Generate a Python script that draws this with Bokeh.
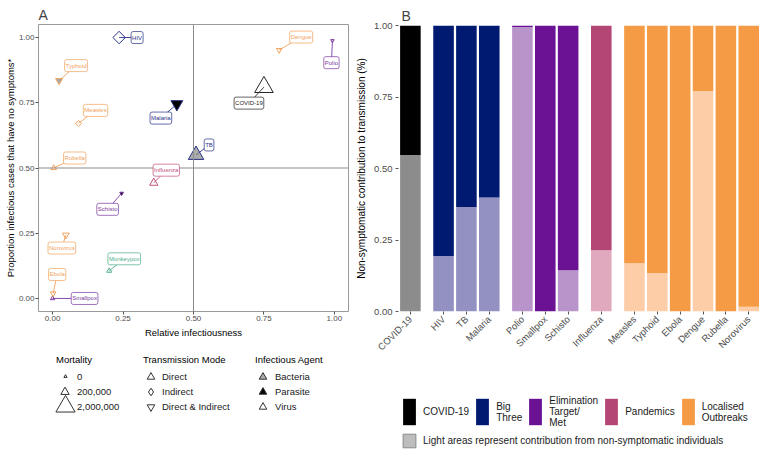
import math
from bokeh.plotting import figure
from bokeh.models import (Range1d, FixedTicker, PrintfTickFormatter, Label, Legend,
                          LegendItem, Span, ColumnDataSource)
from bokeh.layouts import row, column
from bokeh.embed import file_html
from bokeh.resources import INLINE

FONT = "Liberation Sans"
NAN = float("nan")

# ---------------- Panel A data ----------------
diseases_a = ["COVID-19", "HIV", "TB", "Malaria", "Polio", "Smallpox", "Schisto", "Influenza",
              "Measles", "Typhoid", "Ebola", "Dengue", "Rubella", "Norovirus", "Monkeypox"]
groups_a = ["COVID-19", "Big Three", "Big Three", "Big Three", "Elimination", "Elimination",
            "Elimination", "Pandemics", "Localised", "Localised", "Localised", "Localised",
            "Localised", "Localised", "Other"]
rel_infectiousness = [0.75, 0.236, 0.509, 0.441, 0.993, 0.0, 0.245, 0.359,
                      0.092, 0.023, 0.002, 0.804, 0.004, 0.047, 0.201]
prop_no_symptoms = [0.81, 1.0, 0.55, 0.745, 0.988, 0.0, 0.403, 0.443,
                    0.671, 0.835, 0.019, 0.952, 0.5, 0.243, 0.106]
mortality = [1900000, 690000, 1200000, 600000, 500, 8000, 2000, 200000,
             60000, 110000, 45000, 40000, 45000, 95000, 25000]
transmission = ["Direct", "Indirect", "Direct", "Direct & Indirect", "Direct & Indirect",
                "Direct", "Direct & Indirect", "Direct", "Indirect", "Direct & Indirect",
                "Direct & Indirect", "Direct & Indirect", "Direct", "Direct & Indirect", "Direct"]
agent = ["Virus", "Virus", "Bacteria", "Parasite", "Virus", "Virus", "Parasite", "Virus",
         "Virus", "Bacteria", "Virus", "Virus", "Virus", "Virus", "Virus"]
# label placement (screen px, +dx right, +dy down) -- layout only
label_dx = [-15, 18, 13, -16, -1, 32, -14, 12.5, 17, 17, 4, 22, 21, -4, 15]
label_dy = [16, 0, -10, 14, 22, 0, 16, -12.7, -13, -15, -19, -13, -10, 13, -12]

mortality_legend = [0, 200000, 2000000]
mortality_legend_labels = ["0", "200,000", "2,000,000"]
transmission_levels = ["Direct", "Indirect", "Direct & Indirect"]
agent_levels = ["Bacteria", "Parasite", "Virus"]

# ---------------- Panel B data ----------------
diseases_b = ["COVID-19", "HIV", "TB", "Malaria", "Polio", "Smallpox", "Schisto", "Influenza",
              "Measles", "Typhoid", "Ebola", "Dengue", "Rubella", "Norovirus"]
groups_b = ["COVID-19", "Big Three", "Big Three", "Big Three", "Elimination", "Elimination",
            "Elimination", "Pandemics", "Localised", "Localised", "Localised", "Localised",
            "Localised", "Localised"]
nonsymptomatic = [0.547, 0.194, 0.365, 0.399, 0.995, 0.0, 0.144, 0.214,
                  0.169, 0.135, 0.0, 0.771, 0.0, 0.017]
group_order = ["COVID-19", "Big Three", "Elimination", "Pandemics", "Localised"]
group_legend_labels = ["COVID-19", "Big\nThree", "Elimination\nTarget/\nMet", "Pandemics",
                       "Localised\nOutbreaks"]
light_note = "Light areas represent contribution from non-symptomatic individuals"

# ---------------- styles ----------------
dark_col = {"COVID-19": "#000000", "Big Three": "#001a72", "Elimination": "#6a1293",
            "Pandemics": "#b34675", "Localised": "#f59b45"}
light_col = {"COVID-19": "#8c8c8c", "Big Three": "#9390c2", "Elimination": "#b994cb",
             "Pandemics": "#e0a9bd", "Localised": "#fdcda8"}
a_col = {"COVID-19": "#262626", "Big Three": "#2a3388", "Elimination": "#7b3aa0",
         "Pandemics": "#c2507e", "Localised": "#f0a35e", "Other": "#4fae8c"}
marker_map = {"Direct": "triangle", "Indirect": "square", "Direct & Indirect": "inverted_triangle"}
legend_marker_map = {"Direct": "triangle", "Indirect": "diamond",
                     "Direct & Indirect": "inverted_triangle"}
fill_map = {"Bacteria": ("#7f7f7f", 0.65), "Parasite": ("#000000", 1.0), "Virus": ("#ffffff", 0.0)}
KEY = "#333333"


def size_scale(m):
    return 3.3 + 15.7 * math.sqrt(m / 2000000)


def style_legend(lg, fs="9.5px"):
    lg.background_fill_alpha = 0
    lg.border_line_color = None
    lg.padding = 0
    lg.margin = 0
    lg.label_text_font = FONT
    lg.label_text_font_size = fs
    lg.label_text_color = "#1a1a1a"
    lg.label_height = 10
    lg.label_width = 0
    lg.title_text_font = FONT
    lg.title_text_font_size = fs
    lg.title_text_font_style = "normal"
    lg.title_text_color = "#000000"
    return lg


def legend_fig(w, h):
    f = figure(width=w, height=h, output_backend="svg", toolbar_location=None,
               x_range=Range1d(0, 1), y_range=Range1d(0, 1),
               x_axis_location=None, y_axis_location=None,
               min_border=0, outline_line_color=None)
    f.xgrid.visible = False
    f.ygrid.visible = False
    return f


def panel_title(fig, text, offset):
    fig.title.text = text
    fig.title.text_font = FONT
    fig.title.text_font_size = "14px"
    fig.title.text_font_style = "normal"
    fig.title.align = "left"
    fig.title.vertical_align = "top"
    fig.title.offset = offset
    fig.title.standoff = 0


# ================= Panel A figure =================
A_W, A_H = 350, 340
A_L, A_R, A_T, A_B = 38, 2, 24, 29
pa = figure(width=A_W, height=A_H, output_backend="svg", toolbar_location=None,
            x_range=Range1d(-0.05, 1.05), y_range=Range1d(-0.05, 1.05),
            min_border_left=A_L, min_border_right=A_R, min_border_top=A_T, min_border_bottom=A_B)
panel_title(pa, "A", 0)
pa.xgrid.visible = False
pa.ygrid.visible = False
pa.outline_line_color = "#9a9a9a"
pa.outline_line_width = 1
pa.background_fill_color = "white"

for ax in (pa.xaxis[0], pa.yaxis[0]):
    ax.ticker = FixedTicker(ticks=[0, 0.25, 0.5, 0.75, 1.0])
    ax.formatter = PrintfTickFormatter(format="%.2f")
    ax.axis_line_color = None
    ax.major_tick_line_color = "#555555"
    ax.major_tick_out = 3
    ax.major_tick_in = 0
    ax.minor_tick_line_color = None
    ax.major_label_text_font = FONT
    ax.major_label_text_font_size = "8px"
    ax.major_label_text_color = "#4d4d4d"
    ax.major_label_standoff = 1
    ax.axis_label_text_font = FONT
    ax.axis_label_text_font_size = "9.5px"
    ax.axis_label_text_font_style = "normal"
    ax.axis_label_text_color = "#000000"
    ax.axis_label_standoff = 0
pa.xaxis[0].axis_label = "Relative infectiousness"
pa.xaxis[0].axis_label_standoff = 3
pa.yaxis[0].axis_label = "Proportion infectious cases that have no symptoms*"

pa.add_layout(Span(location=0.5, dimension="height", line_color="#8c8c8c", line_width=1))
pa.add_layout(Span(location=0.5, dimension="width", line_color="#8c8c8c", line_width=1))

frame_w = A_W - A_L - A_R
frame_h = A_H - A_T - A_B
ppx = frame_w / 1.1
ppy = frame_h / 1.1

lab_x = [x + dx / ppx for x, dx in zip(rel_infectiousness, label_dx)]
lab_y = [y - dy / ppy for y, dy in zip(prop_no_symptoms, label_dy)]
cols = [a_col[g] for g in groups_a]
pa.segment(x0=rel_infectiousness, y0=prop_no_symptoms, x1=lab_x, y1=lab_y,
           line_color=cols, line_width=0.9)

sizes = []
angles = []
for m, t in zip(mortality, transmission):
    s = size_scale(m)
    if t == "Indirect":
        sizes.append(s * 0.7)
        angles.append(math.pi / 4)
    else:
        sizes.append(s)
        angles.append(0.0)
src = ColumnDataSource(dict(
    x=rel_infectiousness, y=prop_no_symptoms,
    marker=[marker_map[t] for t in transmission],
    size=sizes, angle=angles, line=cols,
    fill=[fill_map[a][0] for a in agent], falpha=[fill_map[a][1] for a in agent],
))
pa.scatter(x="x", y="y", marker="marker", size="size", angle="angle", line_color="line",
           fill_color="fill", fill_alpha="falpha", line_width=1, source=src)

for name, x, y, dx, dy, c in zip(diseases_a, rel_infectiousness, prop_no_symptoms,
                                  label_dx, label_dy, cols):
    pa.add_layout(Label(x=x, y=y, x_offset=dx, y_offset=-dy, text=name,
                        text_font=FONT, text_font_size="6px", text_color=c,
                        text_align="center", text_baseline="middle",
                        background_fill_color="white", background_fill_alpha=1.0,
                        border_line_color=c, border_line_width=0.8, border_line_alpha=0.9,
                        border_radius=2, padding=(1, 3)))

# ---------- Panel A legends: own figure, frame aligned with panel A frame ----------
LA_H = 450 - A_H
la = legend_fig(A_W, LA_H)
FL = A_L            # page x of the aligned frame's left edge
PAGE_BOTTOM = 450   # page y of the legend figure's bottom
row_cy = [376.7, 391.2, 406.2]
ROW_H = 15
items_top = row_cy[0] - ROW_H / 2


def invisible(fig):
    return fig.scatter(x=[NAN], y=[NAN], marker="circle", size=1, line_alpha=0, fill_alpha=0)


def text_legend(fig, title, labels, left_px, glyph_w, standoff):
    inv = invisible(fig)
    items = [LegendItem(label=l, renderers=[inv]) for l in labels]
    lg = Legend(items=items, title=title, glyph_width=glyph_w, glyph_height=ROW_H,
                label_standoff=standoff, spacing=0, title_standoff=4,
                location=(left_px - FL, PAGE_BOTTOM - (items_top + ROW_H * len(labels))))
    style_legend(lg)
    fig.add_layout(lg)


def key_legend(fig, renderer, cx, cy, box):
    lg = Legend(items=[LegendItem(label=" ", renderers=[renderer])], glyph_width=box,
                glyph_height=box, label_standoff=0,
                location=(cx - box / 2 - FL, PAGE_BOTTOM - (cy + box / 2)))
    style_legend(lg, fs="1px")
    fig.add_layout(lg)


text_legend(la, "Mortality", mortality_legend_labels, 56, 16, 5)
text_legend(la, "Transmission Mode", transmission_levels, 143, 16, 3)
text_legend(la, "Infectious Agent", agent_levels, 255, 16, 4)

for m, cy in zip(mortality_legend, row_cy):
    s = size_scale(m)
    box = max(2, int(round(s / 0.4)))
    r = la.scatter(x=[NAN], y=[NAN], marker="triangle", line_color=KEY, fill_alpha=0,
                   line_width=1)
    key_legend(la, r, 64.5, cy, box)

for t, cy in zip(transmission_levels, row_cy):
    r = la.scatter(x=[NAN], y=[NAN], marker=legend_marker_map[t], line_color=KEY,
                   fill_alpha=0, line_width=1)
    key_legend(la, r, 150, cy, 19)

for a, cy in zip(agent_levels, row_cy):
    fc, fa = fill_map[a]
    r = la.scatter(x=[NAN], y=[NAN], marker="triangle", line_color=KEY, fill_color=fc,
                   fill_alpha=fa, line_width=1)
    key_legend(la, r, 262.5, cy, 19)

# ================= Panel B figure =================
B_W, B_H = 410, 374
B_L, B_R, B_T, B_B = 48, 1, 25, 63
group_index = {g: i for i, g in enumerate(group_order)}
pos = [i + 0.45 * group_index[g] for i, g in enumerate(groups_b)]

pb = figure(width=B_W, height=B_H, output_backend="svg", toolbar_location=None,
            x_range=Range1d(-0.52, 15.27), y_range=Range1d(0, 1),
            min_border_left=B_L, min_border_right=B_R, min_border_top=B_T,
            min_border_bottom=B_B)
panel_title(pb, "B", 3)
pb.xgrid.visible = False
pb.ygrid.visible = False
pb.outline_line_color = None

pb.vbar(x=pos, bottom=0, top=nonsymptomatic, width=0.9,
        fill_color=[light_col[g] for g in groups_b], line_color=None)
pb.vbar(x=pos, bottom=nonsymptomatic, top=[1.0] * len(pos), width=0.9,
        fill_color=[dark_col[g] for g in groups_b], line_color=None)

xa = pb.xaxis[0]
xa.ticker = FixedTicker(ticks=pos)
xa.major_label_overrides = {p: n for p, n in zip(pos, diseases_b)}
xa.major_label_orientation = math.pi / 4
ya = pb.yaxis[0]
ya.ticker = FixedTicker(ticks=[0, 0.25, 0.5, 0.75, 1.0])
ya.formatter = PrintfTickFormatter(format="%.2f")
ya.axis_label = "Non-symptomatic contribution to transmission (%)"
for ax in (xa, ya):
    ax.axis_line_color = None
    ax.major_tick_line_color = "#555555"
    ax.major_tick_out = 3
    ax.major_tick_in = 0
    ax.minor_tick_line_color = None
    ax.major_label_text_font = FONT
    ax.major_label_text_font_size = "9.5px"
    ax.major_label_text_color = "#4d4d4d"
    ax.major_label_standoff = 3
    ax.axis_label_text_font = FONT
    ax.axis_label_text_font_size = "10px"
    ax.axis_label_text_font_style = "normal"
    ax.axis_label_text_color = "#000000"
    ax.axis_label_standoff = 4

# ---------- Panel B legends: own figure, frame aligned with panel B frame ----------
LB_H = 450 - B_H
lb = legend_fig(B_W, LB_H)
g_items = []
for g, lbl in zip(group_order, group_legend_labels):
    r = lb.vbar(x=[NAN], top=[NAN], width=1, fill_color=dark_col[g], line_color=None)
    g_items.append(LegendItem(label=lbl, renderers=[r]))
lg_g = Legend(items=g_items, location=(3, PAGE_BOTTOM - 428), orientation="horizontal",
              glyph_width=16, glyph_height=33, label_standoff=6, spacing=5)
style_legend(lg_g, fs="10px")
lb.add_layout(lg_g)

r_light = lb.vbar(x=[NAN], top=[NAN], width=1, fill_color="#bdbdbd", line_color="#8a8a8a",
                  line_width=1)
lg_l = Legend(items=[LegendItem(label=light_note, renderers=[r_light])],
              location=(3, PAGE_BOTTOM - 449), glyph_width=16, glyph_height=17, label_standoff=6)
style_legend(lg_l, fs="10px")
lb.add_layout(lg_l)

layout = row(column(pa, la), column(pb, lb))
open("out.html", "w").write(file_html(layout, INLINE))
